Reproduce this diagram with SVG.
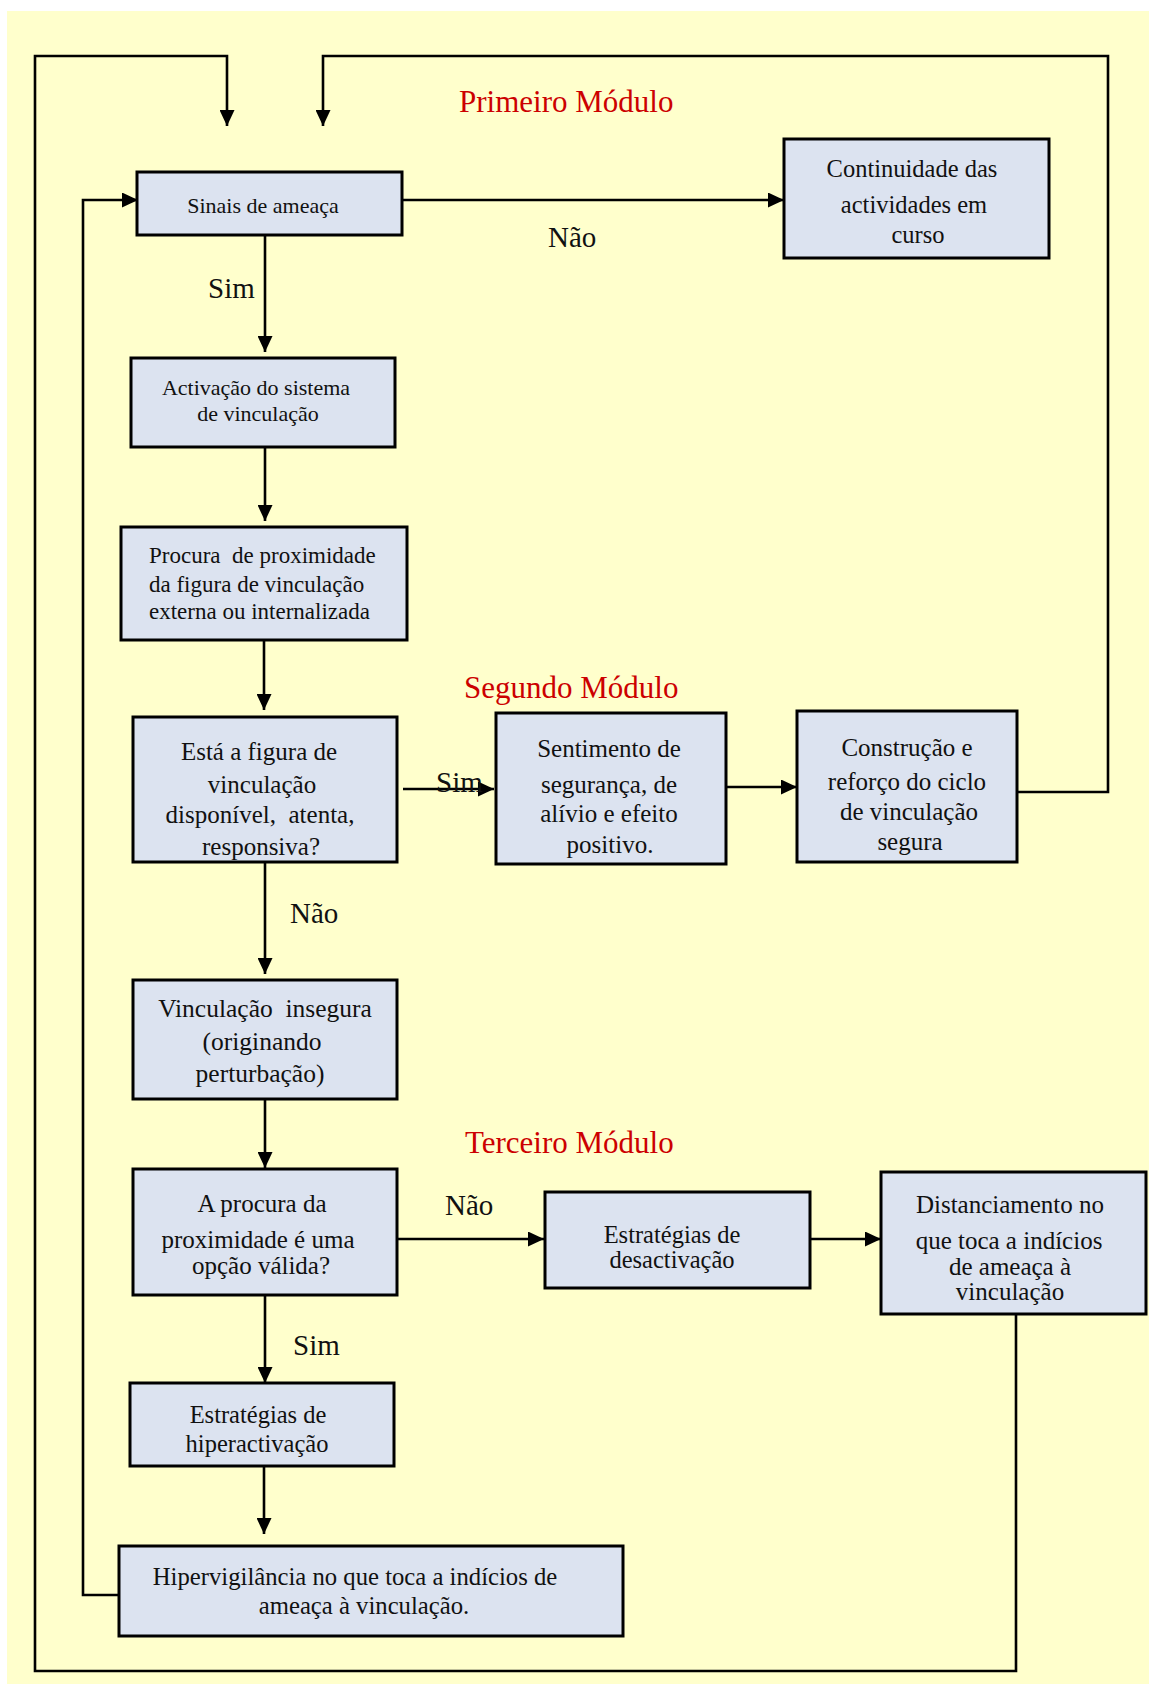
<svg xmlns="http://www.w3.org/2000/svg" width="1149" height="1684" viewBox="0 0 1149 1684">
  <style>
    .box { fill: #DCE3F0; stroke: #000; stroke-width: 3; }
    .t { font-family: "Liberation Serif", "Times New Roman", serif; fill: #111; text-anchor: middle; }
    .tl { font-family: "Liberation Serif", "Times New Roman", serif; fill: #111; }
    .mod { font-family: "Liberation Serif", "Times New Roman", serif; fill: #CC0000; font-size: 31px; }
    .lbl { font-family: "Liberation Serif", "Times New Roman", serif; fill: #111; font-size: 29px; }
    .wire { fill: none; stroke: #000; stroke-width: 2.6; }
  </style>
  <defs>
    <marker id="arrow" markerUnits="userSpaceOnUse" markerWidth="17" markerHeight="15" refX="16" refY="7.5" orient="auto">
      <path d="M0,0 L16,7.5 L0,15 Z" fill="#000"/>
    </marker>
  </defs>

  <!-- page background -->
  <rect x="7" y="11" width="1142" height="1673" fill="#FFFFCC"/>

  <!-- module titles -->
  <text class="mod" x="459" y="112">Primeiro Módulo</text>
  <text class="mod" x="464" y="698">Segundo Módulo</text>
  <text class="mod" x="465" y="1153">Terceiro Módulo</text>

  <!-- connectors -->
  <g id="connectors">
    <path class="wire" d="M1016,1314 V1671 H35 V56 H227 V126" marker-end="url(#arrow)"/>
    <path class="wire" d="M1017,792 H1108 V56 H323 V126" marker-end="url(#arrow)"/>
    <path class="wire" d="M119,1595 H83 V200 H138" marker-end="url(#arrow)"/>
    <path class="wire" d="M401,200 H784" marker-end="url(#arrow)"/>
    <path class="wire" d="M265,235 V352" marker-end="url(#arrow)"/>
    <path class="wire" d="M265,447 V521" marker-end="url(#arrow)"/>
    <path class="wire" d="M264,640 V710" marker-end="url(#arrow)"/>
    <path class="wire" d="M403,789 H494" marker-end="url(#arrow)"/>
    <path class="wire" d="M726,787 H797" marker-end="url(#arrow)"/>
    <path class="wire" d="M265,862 V974" marker-end="url(#arrow)"/>
    <path class="wire" d="M265,1099 V1168" marker-end="url(#arrow)"/>
    <path class="wire" d="M397,1239 H544" marker-end="url(#arrow)"/>
    <path class="wire" d="M809,1239 H881" marker-end="url(#arrow)"/>
    <path class="wire" d="M265,1295 V1383" marker-end="url(#arrow)"/>
    <path class="wire" d="M264,1466 V1534" marker-end="url(#arrow)"/>
  </g>

  <!-- connector labels -->
  <g id="labels">
    <text class="lbl" x="548" y="247">Não</text>
    <text class="lbl" x="208" y="298" font-size="30">Sim</text>
    <text class="lbl" x="436" y="792">Sim</text>
    <text class="lbl" x="290" y="923">Não</text>
    <text class="lbl" x="445" y="1215">Não</text>
    <text class="lbl" x="293" y="1355">Sim</text>
  </g>

  <g id="sinais">
    <rect class="box" x="137" y="172" width="265" height="63"/>
    <text class="t" x="263" y="213" font-size="22">Sinais de ameaça</text>
  </g>

  <g id="continuidade">
    <rect class="box" x="784" y="139" width="265" height="119"/>
    <text class="t" x="912" y="177" font-size="24.5">Continuidade das</text>
    <text class="t" x="914" y="213" font-size="24.5">actividades em</text>
    <text class="t" x="918" y="243" font-size="24.5">curso</text>
  </g>

  <g id="activacao">
    <rect class="box" x="131" y="358" width="264" height="89"/>
    <text class="t" x="256" y="395" font-size="22">Activação do sistema</text>
    <text class="t" x="258" y="421" font-size="22">de vinculação</text>
  </g>

  <g id="procura">
    <rect class="box" x="121" y="527" width="286" height="113"/>
    <text class="tl" x="149" y="563" font-size="23" xml:space="preserve">Procura  de proximidade</text>
    <text class="tl" x="149" y="592" font-size="23">da figura de vinculação</text>
    <text class="tl" x="149" y="619" font-size="23">externa ou internalizada</text>
  </g>

  <g id="disponivel">
    <rect class="box" x="133" y="717" width="264" height="145"/>
    <text class="t" x="259" y="760" font-size="25">Está a figura de</text>
    <text class="t" x="262" y="793" font-size="25">vinculação</text>
    <text class="t" x="260" y="823" font-size="25" xml:space="preserve">disponível,  atenta,</text>
    <text class="t" x="261" y="855" font-size="25">responsiva?</text>
  </g>

  <g id="sentimento">
    <rect class="box" x="496" y="713" width="230" height="151"/>
    <text class="t" x="609" y="757" font-size="25">Sentimento de</text>
    <text class="t" x="609" y="793" font-size="25">segurança, de</text>
    <text class="t" x="609" y="822" font-size="25">alívio e efeito</text>
    <text class="t" x="610" y="853" font-size="25">positivo.</text>
  </g>

  <g id="construcao">
    <rect class="box" x="797" y="711" width="220" height="151"/>
    <text class="t" x="907" y="756" font-size="25">Construção e</text>
    <text class="t" x="907" y="790" font-size="25">reforço do ciclo</text>
    <text class="t" x="909" y="820" font-size="25">de vinculação</text>
    <text class="t" x="910" y="850" font-size="25">segura</text>
  </g>

  <g id="insegura">
    <rect class="box" x="133" y="980" width="264" height="119"/>
    <text class="t" x="265" y="1017" font-size="25.5" xml:space="preserve">Vinculação  insegura</text>
    <text class="t" x="262" y="1050" font-size="25.5">(originando</text>
    <text class="t" x="260" y="1082" font-size="25.5">perturbação)</text>
  </g>

  <g id="opcao">
    <rect class="box" x="133" y="1169" width="264" height="126"/>
    <text class="t" x="262" y="1212" font-size="25">A procura da</text>
    <text class="t" x="258" y="1248" font-size="25">proximidade é uma</text>
    <text class="t" x="261" y="1274" font-size="25">opção válida?</text>
  </g>

  <g id="desactivacao">
    <rect class="box" x="545" y="1192" width="265" height="96"/>
    <text class="t" x="672" y="1243" font-size="24.5">Estratégias de</text>
    <text class="t" x="672" y="1268" font-size="24.5">desactivação</text>
  </g>

  <g id="distanciamento">
    <rect class="box" x="881" y="1172" width="265" height="142"/>
    <text class="t" x="1010" y="1213" font-size="25">Distanciamento no</text>
    <text class="t" x="1009" y="1249" font-size="25">que toca a indícios</text>
    <text class="t" x="1010" y="1275" font-size="25">de ameaça à</text>
    <text class="t" x="1010" y="1300" font-size="25">vinculação</text>
  </g>

  <g id="hiperactivacao">
    <rect class="box" x="130" y="1383" width="264" height="83"/>
    <text class="t" x="258" y="1423" font-size="24.5">Estratégias de</text>
    <text class="t" x="257" y="1452" font-size="24.5">hiperactivação</text>
  </g>

  <g id="hipervigilancia">
    <rect class="box" x="119" y="1546" width="504" height="90"/>
    <text class="t" x="355" y="1585" font-size="24.7">Hipervigilância no que toca a indícios de</text>
    <text class="t" x="364" y="1614" font-size="24.7">ameaça à vinculação.</text>
  </g>
</svg>
